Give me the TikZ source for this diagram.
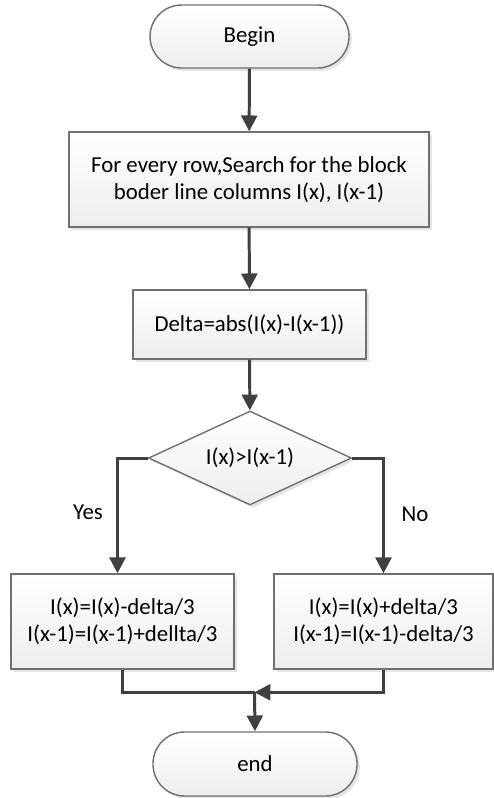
\documentclass[tikz,border=0pt]{standalone}
\usepackage{fontspec}
\setmainfont{Carlito}
\usepackage{tikz}
\usetikzlibrary{calc,arrows.meta,shapes.geometric,shadows}

\definecolor{linegray}{HTML}{404040}
\definecolor{edgegray}{HTML}{707070}

\tikzset{
    boxbase/.style={draw=edgegray, line width=0.8pt, top color=white, bottom color=gray!14,
        drop shadow={shadow xshift=1.6pt, shadow yshift=-1.6pt, fill=gray!35, opacity=0.6},
        font=\fontsize{13}{15.5}\selectfont, align=center, inner sep=0pt},
    term/.style={boxbase, rounded corners=18pt, minimum height=1.26cm},
    proc/.style={boxbase},
    decide/.style={boxbase, diamond, aspect=2.16, minimum width=4.06cm, minimum height=1.88cm},
    flow/.style={draw=linegray, line width=1.7pt, -{Triangle[length=9pt,width=9pt]}},
    plainline/.style={draw=linegray, line width=1.7pt}
}

\begin{document}
\begin{tikzpicture}
    \useasboundingbox (0,0) rectangle (9.88,-15.96);

            \node (begin) at (4.99,-0.73) [term, minimum width=3.98cm] {Begin};
            \node (search) at (4.98,-3.59) [proc, minimum width=7.2cm, minimum height=1.9cm]
                {For every row,Search for the block\\boder line columns I(x), I(x-1)};
            \node (delta) at (4.99,-6.49) [proc, minimum width=4.66cm, minimum height=1.38cm]
                {Delta=abs(I(x)-I(x-1))};
            \node (cmp) at (5.00,-9.16) [decide] {I(x)>I(x-1)};
            \node (yesbox) at (2.45,-12.43) [proc, minimum width=4.46cm, minimum height=1.9cm]
                {I(x)=I(x)-delta/3\\I(x-1)=I(x-1)+dellta/3};
            \node (nobox) at (7.67,-12.43) [proc, minimum width=4.38cm, minimum height=1.9cm]
                {I(x)=I(x)+delta/3\\I(x-1)=I(x-1)-delta/3};
            \node (end) at (5.10,-15.28) [term, minimum width=4.08cm, minimum height=1.28cm] {end};

            \coordinate (merge) at ($(end.north) + (-0.01,0.78)$);

            \foreach \a/\b in {begin/search, search/delta, delta/cmp}
                {
                    \draw [flow] (\a) -- (\b);
                }

                \draw [flow] (cmp.west) -| ([xshift=-0.1cm]yesbox.north);
                \draw [flow] (cmp.east) -| (nobox.north);
                \draw [plainline] (yesbox.south) |- (merge);
                \draw [flow] (nobox.south) |- (merge);
                \draw [flow] (merge) -- (end.north);

                \node (yes) at (1.76,-10.24) [font=\fontsize{13}{15}\selectfont] {Yes};
                \node (no) at (8.30,-10.28) [font=\fontsize{13}{15}\selectfont] {No};

        \end{tikzpicture}
\end{document}
